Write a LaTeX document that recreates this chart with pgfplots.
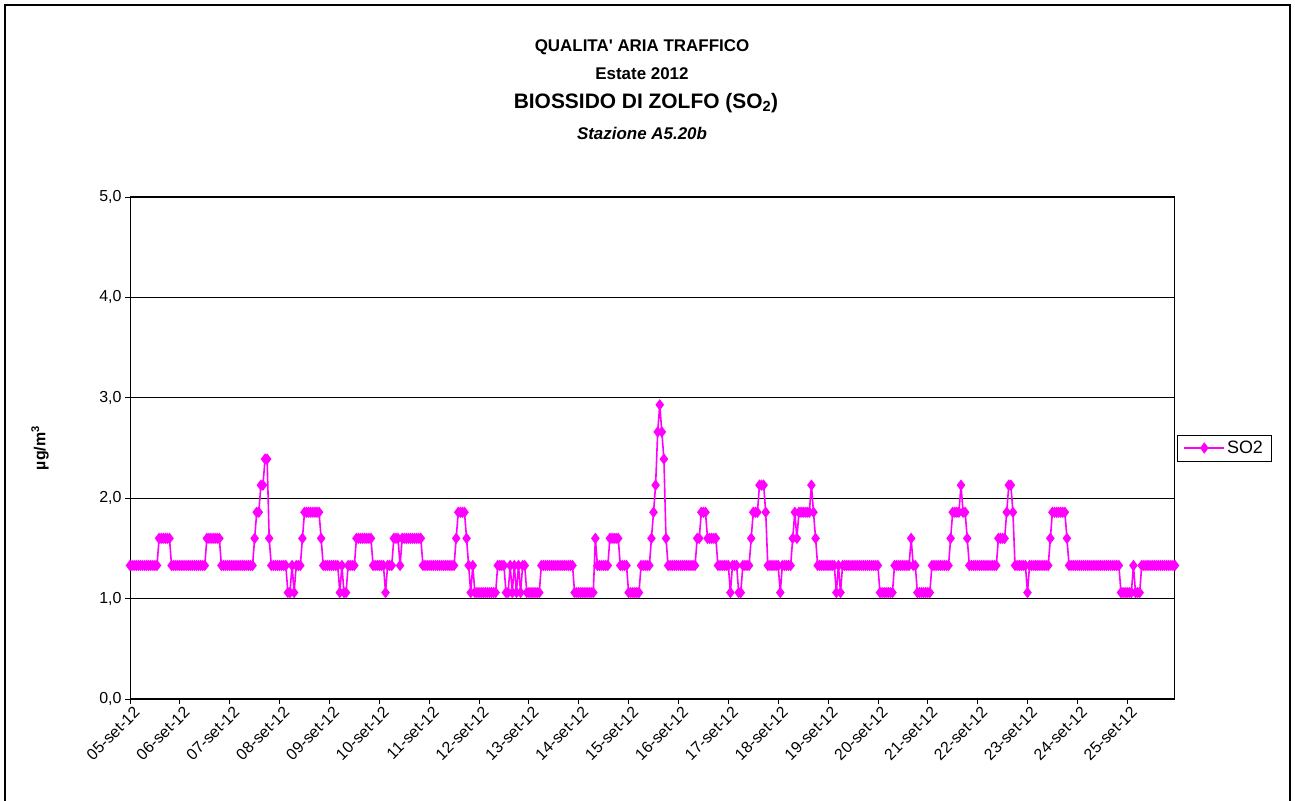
\documentclass[border=0pt]{standalone}
\usepackage{fontspec}
\setmainfont{Liberation Sans}
\usepackage{pgfplots}
\pgfplotsset{compat=1.18}
\definecolor{mag}{RGB}{255,0,255}
\begin{document}
\begin{tikzpicture}[x=1bp,y=1bp]
\useasboundingbox (0,0) rectangle (1295,801);
\draw[black, line width=1.3bp] (5,-10) -- (5,796) -- (1290,796) -- (1290,-10);
\node[font=\bfseries\fontsize{17}{19}\selectfont] at (642,754) {QUALITA\textquotesingle{} ARIA TRAFFICO};
\node[font=\bfseries\fontsize{17}{19}\selectfont] at (642,727) {Estate 2012};
\node[font=\bfseries\fontsize{21}{23}\selectfont] at (646,698) {BIOSSIDO DI ZOLFO (SO\textsubscript{2})};
\node[font=\bfseries\itshape\fontsize{17}{19}\selectfont] at (642,668) {Stazione A5.20b};
\node[font=\bfseries\fontsize{16}{18}\selectfont, rotate=90] at (40,353) {µg/m\textsuperscript{3}};
\begin{axis}[
  at={(130bp,102bp)}, anchor=south west,
  scale only axis, width=1045bp, height=502bp,
  xmin=0, xmax=503, ymin=0, ymax=5,
  xtick={0,24,...,480},
  xticklabels={05-set-12,06-set-12,07-set-12,08-set-12,09-set-12,10-set-12,11-set-12,12-set-12,13-set-12,14-set-12,15-set-12,16-set-12,17-set-12,18-set-12,19-set-12,20-set-12,21-set-12,22-set-12,23-set-12,24-set-12,25-set-12},
  xticklabel style={rotate=45, anchor=north east, font=\fontsize{16}{18}\selectfont, inner sep=1bp, xshift=2bp, yshift=-2bp},
  ytick={0,1,2,3,4,5},
  yticklabel style={font=\fontsize{16}{18}\selectfont, /pgf/number format/.cd, use comma, fixed, fixed zerofill, precision=1, assume math mode=true},
  tick align=outside, major tick length=5bp,
  tick style={black, line width=0.8bp},
  xtick pos=bottom, ytick pos=left,
  ymajorgrids, grid style={black, line width=0.8bp},
  axis line style={black, line width=1bp},
  legend style={at={(1.002,0.5)}, anchor=west, draw=black, line width=0.8bp, font=\fontsize{18}{20}\selectfont, inner xsep=6bp, inner ysep=4bp},
  legend image code/.code={\draw[mark repeat=2, mark phase=2, #1] plot coordinates {(0bp,0bp) (20bp,0bp) (40bp,0bp)};},
  legend cell align=left,
]
\addplot[mag, line width=1.6bp, mark=diamond*, mark size=4.4bp, mark options={solid, fill=mag, draw=mag}]
table[row sep=\\, x expr=\coordindex, y=y] {
y\\
1.33\\ 1.33\\ 1.33\\ 1.33\\ 1.33\\ 1.33\\ 1.33\\ 1.33\\ 1.33\\ 1.33\\ 1.33\\ 1.33\\ 1.33\\ 1.33\\
1.60\\ 1.60\\ 1.60\\ 1.60\\ 1.60\\ 1.60\\
1.33\\ 1.33\\ 1.33\\ 1.33\\ 1.33\\ 1.33\\ 1.33\\ 1.33\\ 1.33\\ 1.33\\ 1.33\\ 1.33\\ 1.33\\ 1.33\\ 1.33\\ 1.33\\ 1.33\\
1.60\\ 1.60\\ 1.60\\ 1.60\\ 1.60\\ 1.60\\ 1.60\\
1.33\\ 1.33\\ 1.33\\ 1.33\\ 1.33\\ 1.33\\ 1.33\\ 1.33\\ 1.33\\ 1.33\\ 1.33\\ 1.33\\ 1.33\\ 1.33\\ 1.33\\ 1.33\\
1.60\\ 1.86\\ 1.86\\ 2.13\\ 2.13\\ 2.39\\ 2.39\\ 1.60\\
1.33\\ 1.33\\ 1.33\\ 1.33\\ 1.33\\ 1.33\\ 1.33\\ 1.33\\
1.06\\ 1.06\\ 1.33\\ 1.06\\ 1.33\\ 1.33\\ 1.33\\ 1.60\\
1.86\\ 1.86\\ 1.86\\ 1.86\\ 1.86\\ 1.86\\ 1.86\\ 1.86\\ 1.60\\
1.33\\ 1.33\\ 1.33\\ 1.33\\ 1.33\\ 1.33\\ 1.33\\ 1.33\\
1.06\\ 1.33\\ 1.06\\ 1.06\\ 1.33\\ 1.33\\ 1.33\\ 1.33\\
1.60\\ 1.60\\ 1.60\\ 1.60\\ 1.60\\ 1.60\\ 1.60\\ 1.60\\
1.33\\ 1.33\\ 1.33\\ 1.33\\ 1.33\\ 1.33\\ 1.06\\ 1.33\\ 1.33\\ 1.33\\
1.60\\ 1.60\\ 1.60\\ 1.33\\
1.60\\ 1.60\\ 1.60\\ 1.60\\ 1.60\\ 1.60\\ 1.60\\ 1.60\\ 1.60\\ 1.60\\
1.33\\ 1.33\\ 1.33\\ 1.33\\ 1.33\\ 1.33\\ 1.33\\ 1.33\\ 1.33\\ 1.33\\ 1.33\\ 1.33\\ 1.33\\ 1.33\\ 1.33\\ 1.33\\
1.60\\ 1.86\\ 1.86\\ 1.86\\ 1.86\\ 1.60\\ 1.33\\ 1.06\\ 1.33\\
1.06\\ 1.06\\ 1.06\\ 1.06\\ 1.06\\ 1.06\\ 1.06\\ 1.06\\ 1.06\\ 1.06\\ 1.06\\
1.33\\ 1.33\\ 1.33\\ 1.33\\
1.06\\ 1.06\\ 1.33\\ 1.06\\ 1.33\\ 1.06\\ 1.33\\ 1.06\\ 1.33\\ 1.33\\
1.06\\ 1.06\\ 1.06\\ 1.06\\ 1.06\\ 1.06\\ 1.06\\
1.33\\ 1.33\\ 1.33\\ 1.33\\ 1.33\\ 1.33\\ 1.33\\ 1.33\\ 1.33\\ 1.33\\ 1.33\\ 1.33\\ 1.33\\ 1.33\\ 1.33\\ 1.33\\
1.06\\ 1.06\\ 1.06\\ 1.06\\ 1.06\\ 1.06\\ 1.06\\ 1.06\\ 1.06\\ 1.06\\
1.60\\
1.33\\ 1.33\\ 1.33\\ 1.33\\ 1.33\\ 1.33\\
1.60\\ 1.60\\ 1.60\\ 1.60\\ 1.60\\
1.33\\ 1.33\\ 1.33\\ 1.33\\
1.06\\ 1.06\\ 1.06\\ 1.06\\ 1.06\\ 1.06\\
1.33\\ 1.33\\ 1.33\\ 1.33\\ 1.33\\
1.60\\ 1.86\\ 2.13\\ 2.66\\ 2.93\\ 2.66\\ 2.39\\ 1.60\\
1.33\\ 1.33\\ 1.33\\ 1.33\\ 1.33\\ 1.33\\ 1.33\\ 1.33\\ 1.33\\ 1.33\\ 1.33\\ 1.33\\ 1.33\\ 1.33\\
1.60\\ 1.60\\ 1.86\\ 1.86\\ 1.86\\ 1.60\\ 1.60\\ 1.60\\ 1.60\\ 1.60\\
1.33\\ 1.33\\ 1.33\\ 1.33\\ 1.33\\ 1.33\\
1.06\\ 1.33\\ 1.33\\ 1.33\\ 1.06\\ 1.06\\ 1.33\\ 1.33\\ 1.33\\ 1.33\\
1.60\\ 1.86\\ 1.86\\ 1.86\\ 2.13\\ 2.13\\ 2.13\\ 1.86\\
1.33\\ 1.33\\ 1.33\\ 1.33\\ 1.33\\ 1.33\\ 1.06\\ 1.33\\ 1.33\\ 1.33\\ 1.33\\ 1.33\\
1.60\\ 1.86\\ 1.60\\ 1.86\\ 1.86\\ 1.86\\ 1.86\\ 1.86\\ 1.86\\ 2.13\\ 1.86\\ 1.60\\
1.33\\ 1.33\\ 1.33\\ 1.33\\ 1.33\\ 1.33\\ 1.33\\ 1.33\\ 1.33\\
1.06\\ 1.33\\ 1.06\\
1.33\\ 1.33\\ 1.33\\ 1.33\\ 1.33\\ 1.33\\ 1.33\\ 1.33\\ 1.33\\ 1.33\\ 1.33\\ 1.33\\ 1.33\\ 1.33\\ 1.33\\ 1.33\\ 1.33\\ 1.33\\
1.06\\ 1.06\\ 1.06\\ 1.06\\ 1.06\\ 1.06\\ 1.06\\
1.33\\ 1.33\\ 1.33\\ 1.33\\ 1.33\\ 1.33\\ 1.33\\ 1.33\\
1.60\\ 1.33\\ 1.33\\
1.06\\ 1.06\\ 1.06\\ 1.06\\ 1.06\\ 1.06\\ 1.06\\
1.33\\ 1.33\\ 1.33\\ 1.33\\ 1.33\\ 1.33\\ 1.33\\ 1.33\\ 1.33\\
1.60\\ 1.86\\ 1.86\\ 1.86\\ 1.86\\ 2.13\\ 1.86\\ 1.86\\ 1.60\\
1.33\\ 1.33\\ 1.33\\ 1.33\\ 1.33\\ 1.33\\ 1.33\\ 1.33\\ 1.33\\ 1.33\\ 1.33\\ 1.33\\ 1.33\\ 1.33\\
1.60\\ 1.60\\ 1.60\\ 1.60\\ 1.86\\ 2.13\\ 2.13\\ 1.86\\
1.33\\ 1.33\\ 1.33\\ 1.33\\ 1.33\\ 1.33\\ 1.06\\
1.33\\ 1.33\\ 1.33\\ 1.33\\ 1.33\\ 1.33\\ 1.33\\ 1.33\\ 1.33\\ 1.33\\
1.60\\ 1.86\\ 1.86\\ 1.86\\ 1.86\\ 1.86\\ 1.86\\ 1.86\\ 1.60\\
1.33\\ 1.33\\ 1.33\\ 1.33\\ 1.33\\ 1.33\\ 1.33\\ 1.33\\ 1.33\\ 1.33\\ 1.33\\ 1.33\\ 1.33\\ 1.33\\ 1.33\\ 1.33\\ 1.33\\ 1.33\\ 1.33\\ 1.33\\ 1.33\\ 1.33\\ 1.33\\ 1.33\\ 1.33\\
1.06\\ 1.06\\ 1.06\\ 1.06\\ 1.06\\ 1.06\\ 1.33\\ 1.06\\ 1.06\\ 1.06\\
1.33\\ 1.33\\ 1.33\\ 1.33\\ 1.33\\ 1.33\\ 1.33\\ 1.33\\ 1.33\\ 1.33\\ 1.33\\ 1.33\\ 1.33\\ 1.33\\ 1.33\\ 1.33\\ 1.33\\
};
\addlegendentry{SO2}
\end{axis}
\end{tikzpicture}
\end{document}
